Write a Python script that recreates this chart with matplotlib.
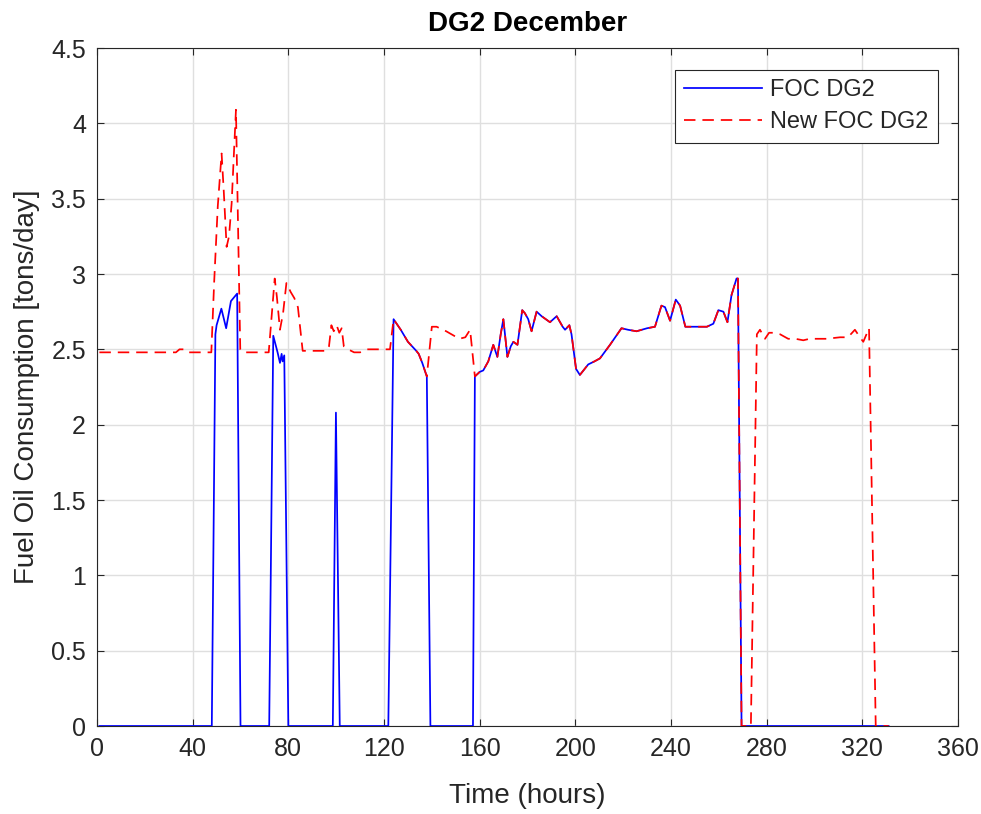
import matplotlib
matplotlib.use("Agg")
import matplotlib.pyplot as plt
import numpy as np

plt.rcParams['font.family'] = ['Liberation Sans', 'DejaVu Sans']

# --- FOC DG2 (measured) : vertices (hour, tons/day) ---
foc_hours = [1, 48, 49.5, 50, 52, 54, 56, 58.6, 60,
             72, 73.7, 75.5, 76.5, 77.2, 77.6, 78.3, 80,
             98.6, 99.9, 101.5,
             121.8, 124, 127, 130, 133.5, 134.5, 136, 137.9, 139.4,
             157.2]
foc_vals = [0, 0, 2.60, 2.66, 2.77, 2.64, 2.82, 2.87, 0,
            0, 2.59, 2.48, 2.41, 2.47, 2.42, 2.46, 0,
            0, 2.08, 0,
            0, 2.70, 2.63, 2.55, 2.49, 2.47, 2.41, 2.32, 0,
            0]

# segment where both curves coincide (hour, tons/day)
common_hours = [158, 160, 161.5, 163.6, 165.7, 167.4, 168.8, 169.9, 171.6, 173,
                174.1, 175.8, 177.8, 178.9, 180.3, 181.7, 183.8, 185.9, 189.4,
                192.2, 194.7, 195.7, 197.5, 198.4, 200.3, 201.9, 205.4, 208,
                210.3, 214.5, 219.3, 222, 225.6, 230, 233.3, 236, 237.5, 239.6,
                242, 243.8, 246, 251, 255, 257.7, 259.8, 261.9, 263.6, 265.3,
                267.4, 268, 269.5]
common_vals = [2.32, 2.35, 2.36, 2.42, 2.53, 2.45, 2.60, 2.70, 2.45, 2.52,
               2.55, 2.53, 2.76, 2.74, 2.70, 2.62, 2.75, 2.72, 2.68,
               2.72, 2.65, 2.63, 2.66, 2.60, 2.37, 2.33, 2.40, 2.42,
               2.44, 2.53, 2.64, 2.63, 2.62, 2.64, 2.65, 2.79, 2.78, 2.69,
               2.83, 2.79, 2.65, 2.65, 2.65, 2.67, 2.76, 2.75, 2.68, 2.86,
               2.97, 2.97, 0]

foc_tail_hours = [331]
foc_tail_vals = [0]

# --- New FOC DG2 : vertices (hour, tons/day) ---
new_hours = [1, 33, 34.5, 36.5, 38, 47.8, 49, 50.5, 52.1, 53, 54.2, 55.2,
             56.3, 57.1, 58.1, 59.9, 61, 71.8, 74.3, 75.2, 76.5, 77.8, 79.2,
             81, 82.5, 84, 86, 96, 97, 98, 99, 100.2, 101.3, 102.3, 103.2,
             105, 107.5, 110, 113, 122.5,
             124, 127, 130, 133.5, 134.5, 136, 137.9,
             140, 142, 146, 151.5, 154, 156]
new_vals = [2.48, 2.48, 2.50, 2.50, 2.48, 2.48, 2.95, 3.45, 3.80, 3.55, 3.18, 3.25,
            3.47, 3.75, 4.09, 2.50, 2.48, 2.48, 2.97, 2.85, 2.63, 2.74, 2.94,
            2.88, 2.84, 2.78, 2.49, 2.49, 2.52, 2.66, 2.62, 2.66, 2.61, 2.64, 2.52,
            2.50, 2.48, 2.48, 2.50, 2.50,
            2.70, 2.63, 2.55, 2.49, 2.47, 2.41, 2.32,
            2.65, 2.65, 2.62, 2.57, 2.58, 2.63]

new_tail_hours = [273.4, 275.9, 277.2, 279.3, 281, 283, 285.6, 289, 292, 295.3,
                  298, 305, 310.7, 314, 316.9, 319, 320.4, 322.8, 325.6, 331]
new_tail_vals = [0, 2.60, 2.63, 2.57, 2.61, 2.61, 2.60, 2.57, 2.57, 2.56,
                 2.57, 2.57, 2.58, 2.58, 2.63, 2.58, 2.55, 2.64, 0, 0]

x_ticks = [0, 40, 80, 120, 160, 200, 240, 280, 320, 360]
y_ticks = [0, 0.5, 1, 1.5, 2, 2.5, 3, 3.5, 4, 4.5]
y_tick_labels = ['0', '0.5', '1', '1.5', '2', '2.5', '3', '3.5', '4', '4.5']

foc_x = np.array(foc_hours + common_hours + foc_tail_hours)
foc_y = np.array(foc_vals + common_vals + foc_tail_vals)
new_x = np.array(new_hours + common_hours + new_tail_hours)
new_y = np.array(new_vals + common_vals + new_tail_vals)

dark = '#262626'

fig = plt.figure(figsize=(9.81, 8.14), dpi=100)
ax = fig.add_axes([97 / 981, 1 - 726 / 814, (958 - 97) / 981, (726 - 48) / 814])

ax.plot(foc_x, foc_y, color='#0000ff', lw=1.25, label='FOC DG2', zorder=3)
red, = ax.plot(new_x, new_y, color='#ff0000', lw=1.25, label='New FOC DG2', zorder=4)
red.set_dashes((6.6, 4.0))

ax.set_xlim(0, 360)
ax.set_ylim(0, 4.5)
ax.set_xticks(x_ticks)
ax.set_yticks(y_ticks)
ax.set_yticklabels(y_tick_labels)
ax.grid(True, color='#dfdfdf', lw=1.0, zorder=0)
ax.set_axisbelow(True)

ax.tick_params(direction='in', top=True, right=True, length=5, width=0.8,
               color=dark, labelcolor=dark, labelsize=18, pad=8)
for s in ax.spines.values():
    s.set_color(dark)
    s.set_linewidth(0.8)

ax.set_xlabel('Time (hours)', fontsize=20, color=dark, labelpad=16)
ax.set_ylabel('Fuel Oil Consumption [tons/day]', fontsize=20, color=dark, labelpad=8)
ax.set_title('DG2 December', fontsize=20, fontweight='bold', color='black', pad=12)

leg = ax.legend(loc='upper right', bbox_to_anchor=(0.9768, 0.9676), borderaxespad=0,
                fontsize=17, fancybox=False, framealpha=1, edgecolor=dark,
                handlelength=3.3, handletextpad=0.35, labelspacing=0.42,
                borderpad=0.4)
leg.get_frame().set_linewidth(0.8)
for t in leg.get_texts():
    t.set_color(dark)

fig.savefig('out.png', dpi=100)
